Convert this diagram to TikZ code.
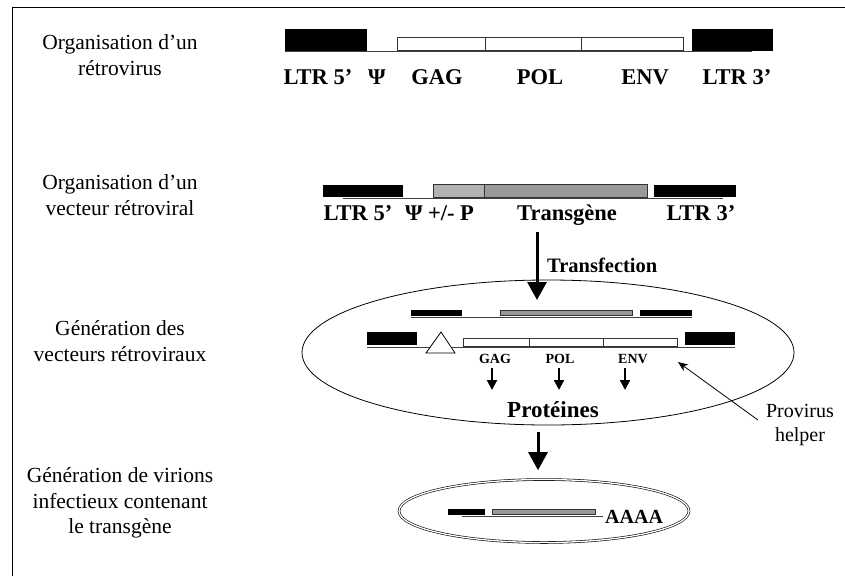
\documentclass[tikz,border=0pt]{standalone}
\usepackage{fontspec}
\setmainfont{Liberation Serif}
\usetikzlibrary{arrows.meta}
\usetikzlibrary{shapes.geometric}
\usetikzlibrary{positioning}

\begin{document}
\begin{tikzpicture}[x=1pt, y=-1pt,
    stage/.style={align=center, inner sep=0, font=\fontsize{21.5}{25.5}\selectfont},
    tag/.style={anchor=base, inner sep=0, font=\fontsize{22.5}{26}\selectfont\bfseries},
    smalltag/.style={anchor=base, inner sep=0, font=\fontsize{14}{16}\selectfont\bfseries},
    ltrbox/.style={rectangle, fill=black, inner sep=0},
    genebox/.style={rectangle, draw=black!80, fill=white, line width=0.8pt, inner sep=0},
    transbox/.style={rectangle, draw=black!80, fill=black!40, line width=0.8pt, inner sep=0},
    promobox/.style={rectangle, draw=black!80, fill=black!30, line width=0.8pt, inner sep=0},
    seq/.style={draw=black!75, line width=1pt},
    bigarrow/.style={line width=3pt, -{Triangle[width=19pt, length=18pt]}},
    smallarrow/.style={line width=2pt, -{Triangle[width=10pt, length=10pt]}},
    thinarrow/.style={line width=0.8pt, -{Stealth[width=8pt, length=10pt]}}]

    \useasboundingbox (0,0) rectangle (845,576);
    \coordinate (frame_bl) at (12,576);
    \coordinate (frame_tl) at (12,7);
    \coordinate (frame_tr) at (845,7);
    \draw[line width=1pt] (frame_bl) -- (frame_tl) -- (frame_tr);

    \node[stage] (stage_virus) at (120,55) {Organisation d’un\\rétrovirus};
    \node[stage] (stage_vector) at (120,195) {Organisation d’un\\vecteur rétroviral};
    \node[stage] (stage_gen) at (120,341) {Génération des\\vecteurs rétroviraux};
    \node[stage] (stage_virion) at (120,503) {Génération de virions\\infectieux contenant\\le transgène};

    \coordinate (seq_a_start) at (285,51);
    \coordinate (seq_a_end) at (752,51);
    \draw[seq] (seq_a_start) -- (seq_a_end);
    \node[ltrbox, minimum width=82pt, minimum height=22pt] (ltr5_a) at (326,40) {};
    \node[genebox, minimum width=88pt, minimum height=13pt] (gag_a) at (441,43.5) {};
    \node[genebox, minimum width=96pt, minimum height=13pt] (pol_a) at (533,43.5) {};
    \node[genebox, minimum width=102pt, minimum height=13pt] (env_a) at (632,43.5) {};
    \node[ltrbox, minimum width=81pt, minimum height=22pt] (ltr3_a) at (732.5,40) {};
    \node[tag] (lbl_ltr5_a) at (318,84) {LTR 5’};
    \node[tag] (lbl_psi_a) at (377,84) {Ψ};
    \node[tag] (lbl_gag_a) at (437,84) {GAG};
    \node[tag] (lbl_pol_a) at (540,84) {POL};
    \node[tag] (lbl_env_a) at (645,84) {ENV};
    \node[tag] (lbl_ltr3_a) at (737,84) {LTR 3’};

    \coordinate (seq_b_start) at (343,198);
    \coordinate (seq_b_end) at (723,198);
    \draw[seq] (seq_b_start) -- (seq_b_end);
    \node[ltrbox, minimum width=80pt, minimum height=12pt] (ltr5_b) at (363,191) {};
    \node[promobox, minimum width=51pt, minimum height=13pt] (promo_b) at (458.5,190.5) {};
    \node[transbox, minimum width=163pt, minimum height=13pt] (trans_b) at (565.5,190.5) {};
    \node[ltrbox, minimum width=82pt, minimum height=12pt] (ltr3_b) at (695,191) {};
    \node[tag] (lbl_ltr5_b) at (358,220) {LTR 5’};
    \node[tag] (lbl_psi_b) at (414,220) {Ψ};
    \node[tag] (lbl_promo_b) at (451,220) {+/- P};
    \node[tag] (lbl_trans_b) at (567,220) {Transgène};
    \node[tag] (lbl_ltr3_b) at (701,220) {LTR 3’};

    \node[ellipse, draw, line width=0.8pt, minimum width=492pt, minimum height=145pt, inner sep=0] (cell) at (548,352.5) {};
    \coordinate (transfect_top) at (537,232);
    \coordinate (transfect_tip) at (537,300);
    \draw[bigarrow] (transfect_top) -- (transfect_tip);
    \node[anchor=base west, inner sep=0, font=\fontsize{20.5}{24}\selectfont\bfseries] (lbl_transfect) at (547,272) {Transfection};

    \coordinate (seq_c_start) at (411,317);
    \coordinate (seq_c_end) at (692,317);
    \draw[seq] (seq_c_start) -- (seq_c_end);
    \node[ltrbox, minimum width=51pt, minimum height=6pt] (ltr5_c) at (436.5,313) {};
    \node[transbox, minimum width=132pt, minimum height=5pt] (trans_c) at (566,312.5) {};
    \node[ltrbox, minimum width=52pt, minimum height=6pt] (ltr3_c) at (666,313) {};

    \coordinate (seq_d_start) at (367,347);
    \coordinate (seq_d_end) at (735,347);
    \draw[seq] (seq_d_start) -- (seq_d_end);
    \node[ltrbox, minimum width=50pt, minimum height=13pt] (ltr5_d) at (392,338.5) {};
    \draw[line width=0.8pt, fill=white] (441,332) -- (426,353) -- (455,353) -- cycle;
    \node[genebox, minimum width=66pt, minimum height=8pt] (gag_d) at (496,342) {};
    \node[genebox, minimum width=74pt, minimum height=8pt] (pol_d) at (566,342) {};
    \node[genebox, minimum width=74pt, minimum height=8pt] (env_d) at (640,342) {};
    \node[ltrbox, minimum width=50pt, minimum height=13pt] (ltr3_d) at (710,338.5) {};
    \node[smalltag] (lbl_gag_d) at (495,363) {GAG};
    \node[smalltag] (lbl_pol_d) at (560,363) {POL};
    \node[smalltag] (lbl_env_d) at (633,363) {ENV};
    \coordinate (gag_out) at (492,368);
    \coordinate (pol_out) at (559,368);
    \coordinate (env_out) at (625,368);
    \draw[smallarrow] (gag_out) -- ++(0,22);
    \draw[smallarrow] (pol_out) -- ++(0,22);
    \draw[smallarrow] (env_out) -- ++(0,22);
    \node[anchor=base, inner sep=0, font=\fontsize{23}{27}\selectfont\bfseries] (proteins) at (553,417) {Protéines};

    \node[align=center, inner sep=0, font=\fontsize{20}{24}\selectfont] (helper) at (800,425) {Provirus\\helper};
    \coordinate (helper_tip) at (678,362);
    \draw[thinarrow] ([xshift=-8pt, yshift=5pt]helper.west) -- (helper_tip);

    \node[ellipse, draw, double, double distance=1.3pt, line width=0.6pt, minimum width=290pt, minimum height=63pt, inner sep=0] (virion) at (544,511) {};
    \coordinate (virion_top) at (538,432);
    \draw[bigarrow] (virion_top) -- ([yshift=9pt]virion.north -| virion_top);
    \coordinate (seq_e_start) at (462,516);
    \coordinate (seq_e_end) at (603,516);
    \draw[seq] (seq_e_start) -- (seq_e_end);
    \node[ltrbox, minimum width=37pt, minimum height=6pt] (ltr5_e) at (466.5,512) {};
    \node[transbox, minimum width=103pt, minimum height=5pt] (trans_e) at (543.5,511.5) {};
    \node[anchor=base west, inner sep=0, font=\fontsize{20}{24}\selectfont\bfseries] (polya) at (605,523) {AAAA};
\end{tikzpicture}
\end{document}
